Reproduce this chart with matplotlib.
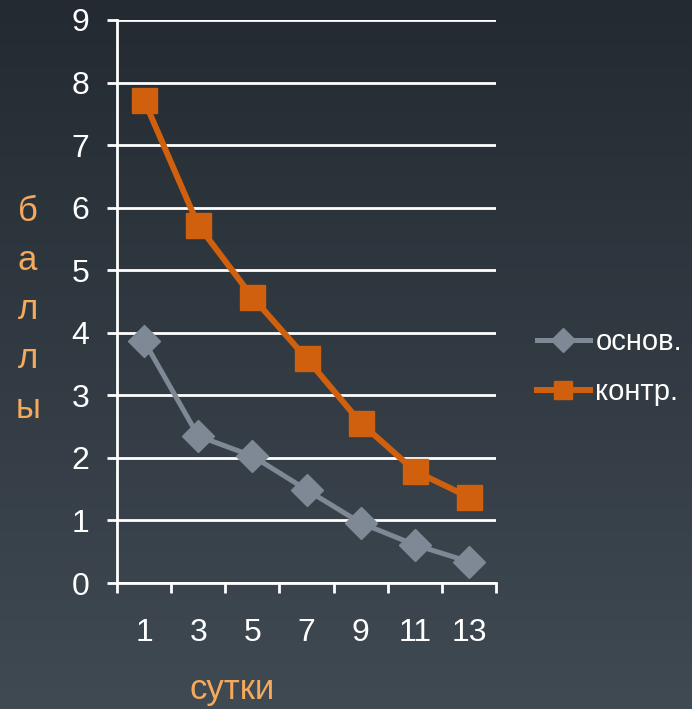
import matplotlib.pyplot as plt
import numpy as np
from matplotlib.ticker import FixedLocator

plt.rcParams['font.family'] = ['Liberation Sans', 'DejaVu Sans']

days = ['1', '3', '5', '7', '9', '11', '13']
osnov = [3.87, 2.35, 2.03, 1.49, 0.96, 0.61, 0.34]
kontr = [7.72, 5.72, 4.57, 3.59, 2.56, 1.79, 1.37]

orange = '#d0600e'
grey = '#7f8895'
label_col = '#f5a95c'

fig = plt.figure(figsize=(6.92, 7.09), dpi=100)

# dark vertical gradient behind everything
bg = fig.add_axes([0, 0, 1, 1], zorder=-10)
top = np.array([35, 42, 50]) / 255
bot = np.array([64, 74, 82]) / 255
t = np.linspace(0, 1, 256)[:, None]
grad = top + (bot - top) * t
bg.imshow(grad[:, None, :].repeat(2, axis=1), aspect='auto', extent=[0, 1, 0, 1])
bg.axis('off')

ax = fig.add_axes([0.169, 0.1777, 0.548, 0.7941])
ax.patch.set_alpha(0)

x = np.arange(len(days))
ax.plot(x, osnov, color=grey, lw=3.6, marker='D', ms=16, mec=grey, label='основ.', zorder=3)
ax.plot(x, kontr, color=orange, lw=4.3, marker='s', ms=18, mec=orange, label='контр.', zorder=4)

ax.set_xlim(-0.5, len(days) - 0.5)
ax.set_ylim(0, 9)
ax.set_yticks(range(10))
ax.set_xticks(x)
ax.set_xticklabels(days)
ax.xaxis.set_minor_locator(FixedLocator(np.arange(-0.5, len(days), 1)))

ax.grid(axis='y', color='white', lw=2)
ax.set_axisbelow(True)
for s in ['top', 'right']:
    ax.spines[s].set_visible(False)
for s in ['left', 'bottom']:
    ax.spines[s].set_color('white')
    ax.spines[s].set_linewidth(2)

ax.tick_params(axis='y', colors='white', labelsize=23, length=7, width=2, pad=13)
ax.tick_params(axis='x', which='major', colors='white', labelsize=23, length=0, pad=25)
ax.tick_params(axis='x', which='minor', color='white', length=7, width=2)

leg = ax.legend(loc='center left', bbox_to_anchor=(1.108, 0.384), frameon=False,
                fontsize=21, handlelength=1.8, handletextpad=0.2, labelspacing=0.75,
                labelcolor='white', borderaxespad=0, borderpad=0, markerscale=0.75)

fig.text(0.04, 0.563, 'б\nа\nл\nл\nы', color=label_col, fontsize=25,
         ha='center', va='center', linespacing=1.62)
fig.text(0.335, 0.027, 'сутки', color=label_col, fontsize=25, ha='center', va='center')

fig.savefig('out.png', dpi=100)
